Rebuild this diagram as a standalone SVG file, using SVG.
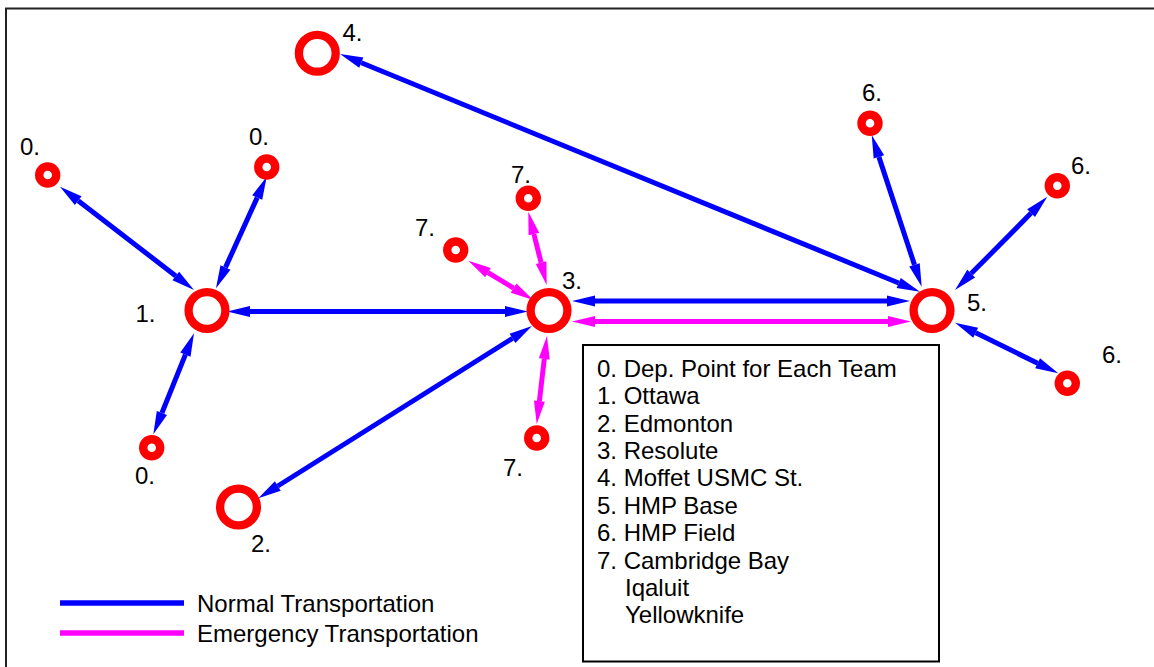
<svg xmlns="http://www.w3.org/2000/svg" width="1154" height="667" viewBox="0 0 1154 667">
<style>
text{font-family:"Liberation Sans",Arial,Helvetica,sans-serif;font-size:24px;fill:#000}
.big{fill:none;stroke:#ff0000;stroke-width:8.3}
.small{fill:none;stroke:#ff0000;stroke-width:8.4}
.n{stroke:#0000ff;stroke-width:5;fill:none;marker-start:url(#hb);marker-end:url(#hb)}
.e{stroke:#ff00ff;stroke-width:5;fill:none;marker-start:url(#hm);marker-end:url(#hm)}
</style>
<defs>
<marker id="hb" markerUnits="userSpaceOnUse" markerWidth="23" markerHeight="11" refX="0" refY="5.5" orient="auto-start-reverse" overflow="visible"><path d="M0,0 L23,5.5 L0,11 Z" fill="#0000ff"/></marker>
<marker id="hm" markerUnits="userSpaceOnUse" markerWidth="23" markerHeight="11" refX="0" refY="5.5" orient="auto-start-reverse" overflow="visible"><path d="M0,0 L23,5.5 L0,11 Z" fill="#ff00ff"/></marker>
</defs>
<rect width="1154" height="667" fill="#fff"/>
<path d="M6,667 V8.5 H1154" fill="none" stroke="#222" stroke-width="2"/>
<g id="connectors">
<line class="n" x1="78.2" y1="200.7" x2="175.8" y2="276.0"/>
<line class="n" x1="257.2" y1="197.6" x2="225.5" y2="267.4"/>
<line class="n" x1="185.4" y1="354.6" x2="161.9" y2="413.0"/>
<line class="n" x1="250" y1="311.5" x2="505" y2="311.5"/>
<line class="n" x1="512.5" y1="338.3" x2="277.8" y2="486.0"/>
<line class="e" x1="541.1" y1="262.7" x2="533.9" y2="234.0"/>
<line class="e" x1="513.6" y1="288.1" x2="488.0" y2="272.6"/>
<line class="e" x1="544.3" y1="358.8" x2="539.4" y2="401.2"/>
<line class="n" x1="595" y1="301" x2="887" y2="301"/>
<line class="e" x1="595" y1="321.5" x2="888" y2="321.5"/>
<line class="n" x1="361.3" y1="62.7" x2="898.7" y2="283.0"/>
<line class="n" x1="914.5" y1="264.9" x2="878.9" y2="156.9"/>
<line class="n" x1="971.2" y1="273.6" x2="1031.1" y2="213.1"/>
<line class="n" x1="975.7" y1="332.8" x2="1037.6" y2="363.2"/>
</g>
<g id="node-0a"><circle class="small" cx="47.7" cy="175" r="8.5"/><text x="20" y="155">0.</text></g>
<g id="node-0b"><circle class="small" cx="266.7" cy="167" r="8.5"/><text x="249" y="145">0.</text></g>
<g id="node-0c"><circle class="small" cx="151.7" cy="447.7" r="8.5"/><text x="135" y="484">0.</text></g>
<g id="node-1"><circle class="big" cx="207" cy="310.5" r="18.4"/><text x="135.5" y="322">1.</text></g>
<g id="node-2"><circle class="big" cx="238.5" cy="507" r="18.4"/><text x="251" y="552">2.</text></g>
<g id="node-3"><circle class="big" cx="549" cy="310.5" r="18.4"/><text x="562" y="289">3.</text></g>
<g id="node-4"><circle class="big" cx="317.3" cy="53.3" r="18.4"/><text x="342.5" y="41">4.</text></g>
<g id="node-5"><circle class="big" cx="932" cy="310.5" r="18.4"/><text x="967" y="311">5.</text></g>
<g id="node-6a"><circle class="small" cx="870" cy="123.3" r="8.5"/><text x="862" y="101">6.</text></g>
<g id="node-6b"><circle class="small" cx="1057.3" cy="185.7" r="8.5"/><text x="1071" y="174">6.</text></g>
<g id="node-6c"><circle class="small" cx="1067.3" cy="383.3" r="8.5"/><text x="1102" y="363">6.</text></g>
<g id="node-7a"><circle class="small" cx="528.3" cy="198.3" r="8.5"/><text x="511" y="183">7.</text></g>
<g id="node-7b"><circle class="small" cx="455.7" cy="250" r="8.5"/><text x="415" y="236">7.</text></g>
<g id="node-7c"><circle class="small" cx="536.7" cy="438" r="8.5"/><text x="503" y="476">7.</text></g>
<g id="legend-lines">
<line x1="60" y1="603" x2="184" y2="603" stroke="#0000ff" stroke-width="5.5"/>
<text x="197" y="611.5">Normal Transportation</text>
<line x1="60" y1="633" x2="184" y2="633" stroke="#ff00ff" stroke-width="5.5"/>
<text x="197" y="641.5">Emergency Transportation</text>
</g>
<g id="legend-box">
<rect x="583" y="345" width="356" height="316.5" fill="#fff" stroke="#000" stroke-width="2"/>
<text x="597" y="376.7">0. Dep. Point for Each Team</text>
<text x="597" y="404.1">1. Ottawa</text>
<text x="597" y="431.5">2. Edmonton</text>
<text x="597" y="458.9">3. Resolute</text>
<text x="597" y="486.3">4. Moffet USMC St.</text>
<text x="597" y="513.7">5. HMP Base</text>
<text x="597" y="541.1">6. HMP Field</text>
<text x="597" y="568.5">7. Cambridge Bay</text>
<text x="625" y="595.9">Iqaluit</text>
<text x="625" y="623.3">Yellowknife</text>
</g>
</svg>
